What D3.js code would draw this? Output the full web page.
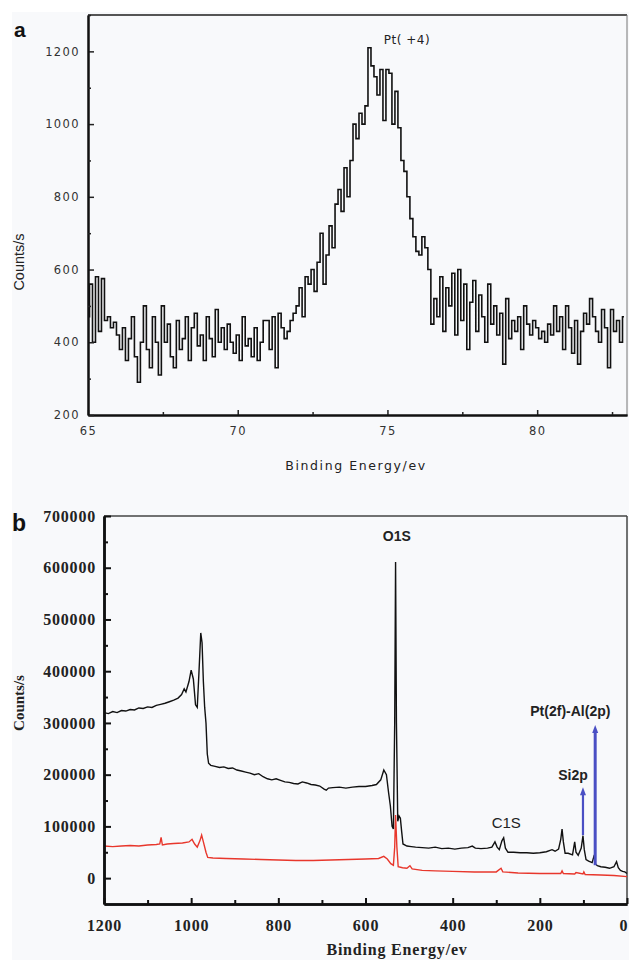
<!DOCTYPE html>
<html>
<head>
<meta charset="utf-8">
<script src="https://cdn.jsdelivr.net/npm/d3@7"></script>
<style>
body{margin:0;background:#fff;}
svg{display:block;}
</style>
</head>
<body>
<svg id="canvas" width="629" height="960"></svg>
<script>
// panel a: Pt 4f region, 65.0 .. 82.9 eV step 0.1
let aStart=65.0, aStep=0.1;
let aCounts=[
470,560,400,580,430,575,460,470,440,455,
420,380,440,350,410,470,360,290,400,500,
380,330,470,400,310,500,400,450,360,330,
460,380,410,470,350,440,480,390,420,350,
470,410,360,490,400,440,380,450,400,370,
420,350,470,390,410,360,440,350,400,460,
460,380,470,330,480,440,410,430,460,480,
500,550,470,580,560,600,540,620,700,560,
640,720,660,780,820,760,880,800,900,1000,
960,1030,1000,1050,1210,1160,1130,1080,1150,1010,
1150,1140,1000,1090,990,900,870,800,740,690,
650,640,690,660,600,450,520,470,580,430,
550,500,590,420,600,460,560,380,510,570,
430,530,470,400,560,450,500,420,480,340,
520,410,460,430,470,380,500,450,420,460,
440,410,430,400,450,420,500,430,470,380,
500,440,370,460,340,430,480,450,520,470,
430,400,490,440,330,490,430,460,400,470];
let aTicksX=[65,70,75,80], aMinorX=[67.5,72.5,77.5,82.5];
let aTicksY=[200,400,600,800,1000,1200], aMinorY=[300,500,700,900,1100,1300];

// panel b: survey spectra
let bEnergy=[1200,1190,1180,1170,1160,1150,1140,1130,1120,1110,1100,1090,1080,1070,1060,1050,1040,1030,1022,1016,1012,1005,1000,995,990,986,982,978,975,972,969,966,963,960,955,945,935,925,915,905,895,885,875,865,855,845,835,825,815,805,795,785,775,765,755,745,735,725,715,705,695,690,685,675,660,645,630,615,600,585,575,565,558,552,547,543,539,536,533,531,529,526,523,520,517,514,505,495,485,470,455,440,425,410,395,380,365,355,348,335,320,310,303,298,293,287,283,279,273,260,245,230,215,200,185,172,165,157,152,149,146,142,135,125,120,117,112,105,101,98,94,88,80,75,73,68,60,50,40,30,24,20,15,10,5,0];
let bBlack=[320000,318000,322000,320000,324000,323000,326000,325000,329000,328000,331000,330000,334000,336000,338000,341000,344000,348000,355000,366000,360000,380000,402000,385000,335000,330000,400000,474000,455000,380000,330000,300000,240000,222000,218000,216000,214000,215000,212000,213000,209000,207000,205000,203000,200000,202000,196000,192000,190000,192000,189000,186000,185000,183000,182000,186000,184000,181000,180000,178000,172000,170000,174000,175000,176000,174000,176000,177000,177000,179000,181000,190000,209000,200000,165000,140000,100000,95000,300000,611000,300000,110000,120000,116000,90000,66000,62000,61000,60000,59000,58000,60000,57000,58000,56000,58000,59000,62000,58000,57000,58000,60000,70000,60000,55000,72000,78000,58000,50000,50000,49000,49000,48000,49000,51000,55000,52000,56000,75000,95000,70000,48000,48000,45000,70000,50000,44000,58000,82000,55000,36000,33000,30000,45000,28000,24000,22000,21000,19000,22000,32000,20000,15000,13000,12000,9000];
let redEnergy=[1200,1180,1160,1140,1120,1100,1080,1072,1069,1066,1055,1040,1020,1005,998,992,986,980,976,972,966,962,950,920,880,840,800,760,720,680,640,600,570,558,550,542,536,533,531,528,525,515,505,498,493,470,440,400,350,300,289,285,250,200,152,149,146,120,117,101,99,96,60,30,0];
let bRed=[62000,61000,62000,63000,62000,64000,65000,66000,79000,64000,66000,67000,68000,70000,75000,66000,60000,72000,83000,70000,50000,40000,39000,38000,37000,36000,35000,34000,34000,35000,36000,37000,38000,42000,37000,28000,25000,60000,122000,60000,22000,20000,19000,24000,18000,15000,14000,13000,12000,12000,19000,12000,10000,9000,9000,14000,9000,8000,11000,8000,12000,7000,6000,5000,3000];
let bTicksX=[1200,1000,800,600,400,200,0], bMinorX=[1100,900,700,500,300,100];
let bTicksY=[0,100000,200000,300000,400000,500000,600000,700000];
let bMinorY=[50000,150000,250000,350000,450000,550000,650000];
let peakLabels=[{t:"O1S",e:528,v:652000,bold:true},{t:"C1S",e:277,v:97000,bold:false},{t:"Si2p",e:124,v:189000,bold:true},{t:"Pt(2f)-Al(2p)",e:130,v:313000,bold:true}];
let arrows=[{e:101,from:83000,to:172000,w:2.2},{e:73,from:25000,to:292000,w:3}];

let canvas=d3.select("#canvas");
canvas.append("rect").attr("x",12).attr("y",12).attr("width",617).attr("height",948).attr("fill","#f8f9fb");

// ---------- panel a ----------
let xA=d3.scaleLinear().domain([65,83]).range([88,627]);
let yA=d3.scaleLinear().domain([200,1300]).range([415,15]);
let ga=canvas.append("g");
ga.append("line").attr("x1",88).attr("x2",627).attr("y1",15).attr("y2",15).attr("stroke","#555").attr("stroke-width",2);
ga.append("line").attr("x1",627).attr("x2",627).attr("y1",15).attr("y2",415).attr("stroke","#777").attr("stroke-width",1);

let aLine=d3.line().x((d,i)=>xA(aStart+i*aStep)).y(d=>yA(d)).curve(d3.curveStep);
ga.append("path").datum(aCounts).attr("d",aLine).attr("fill","none").attr("stroke","#111").attr("stroke-width",1.6);

ga.append("g").attr("transform","translate(0,415)")
  .call(d3.axisBottom(xA).tickValues(aTicksX).tickSizeInner(-5).tickSizeOuter(0).tickPadding(12).tickFormat(d3.format("d")));
ga.append("g").attr("transform","translate(0,415)")
  .call(d3.axisBottom(xA).tickValues(aMinorX).tickSizeInner(-3).tickSizeOuter(0).tickFormat(""));
ga.append("g").attr("transform","translate(88,0)")
  .call(d3.axisLeft(yA).tickValues(aTicksY).tickSizeInner(-6).tickSizeOuter(0).tickPadding(8).tickFormat(d3.format("d")));
ga.append("g").attr("transform","translate(88,0)")
  .call(d3.axisLeft(yA).tickValues(aMinorY).tickSizeInner(-3).tickSizeOuter(0).tickFormat(""));
ga.selectAll(".domain").attr("stroke","#111").attr("stroke-width",2);
ga.selectAll(".tick line").attr("stroke","#222").attr("stroke-width",1.5);
ga.selectAll(".tick text").style("font-family","DejaVu Sans").style("font-size","11.5px").style("letter-spacing","1.4px").attr("fill","#333");

ga.append("text").attr("x",407).attr("y",44).attr("text-anchor","middle").style("font-family","DejaVu Sans").style("font-size","12px").style("letter-spacing","0.5px").attr("fill","#222").text("Pt( +4)");
ga.append("text").attr("x",356).attr("y",470).attr("text-anchor","middle").style("font-family","DejaVu Sans").style("font-size","12.5px").style("letter-spacing","1.6px").attr("fill","#222").text("Binding Energy/ev");
ga.append("text").attr("transform","translate(24,262) rotate(-90)").attr("text-anchor","middle").style("font-family","Liberation Sans").style("font-size","14.5px").attr("fill","#222").text("Counts/s");
ga.append("text").attr("x",14).attr("y",37).style("font-family","Liberation Sans").style("font-weight","bold").style("font-size","21px").attr("fill","#111").text("a");

// ---------- panel b ----------
let xB=d3.scaleLinear().domain([1200,0]).range([104,627]);
let yB=d3.scaleLinear().domain([-50000,700000]).range([904,516]);
let gb=canvas.append("g");
gb.append("line").attr("x1",104).attr("x2",627).attr("y1",516).attr("y2",516).attr("stroke","#444").attr("stroke-width",1.5);
gb.append("line").attr("x1",627).attr("x2",627).attr("y1",516).attr("y2",904).attr("stroke","#444").attr("stroke-width",1.5);

let bLine=d3.line().x(d=>xB(d[0])).y(d=>yB(d[1]));
gb.append("path").datum(redEnergy.map((e,i)=>[e,bRed[i]])).attr("d",bLine).attr("fill","none").attr("stroke","#e8372c").attr("stroke-width",1.4);
gb.append("path").datum(bEnergy.map((e,i)=>[e,bBlack[i]])).attr("d",bLine).attr("fill","none").attr("stroke","#111").attr("stroke-width",1.4);

let bxAxis=gb.append("g").attr("transform","translate(0,904)")
  .call(d3.axisBottom(xB).tickValues(bTicksX).tickSizeInner(-6).tickSizeOuter(0).tickPadding(16).tickFormat(d3.format("d")));
gb.append("g").attr("transform","translate(0,904)")
  .call(d3.axisBottom(xB).tickValues(bMinorX).tickSizeInner(-4).tickSizeOuter(0).tickFormat(""));
gb.append("g").attr("transform","translate(104,0)")
  .call(d3.axisLeft(yB).tickValues(bTicksY).tickSizeInner(-7).tickSizeOuter(0).tickPadding(8).tickFormat(d3.format("d")));
gb.append("g").attr("transform","translate(104,0)")
  .call(d3.axisLeft(yB).tickValues(bMinorY).tickSizeInner(-4).tickSizeOuter(0).tickFormat(""));
gb.selectAll(".domain").attr("stroke","#111").attr("stroke-width",2.5);
gb.selectAll(".tick line").attr("stroke","#111").attr("stroke-width",2);
gb.selectAll(".tick text").style("font-family","Liberation Serif").style("font-weight","bold").style("font-size","16px").style("letter-spacing","0.8px").attr("fill","#222");
// last label sits at the frame edge; keep it inside the page
bxAxis.selectAll(".tick text").filter(d=>d===0).attr("text-anchor","end").attr("dx","0").style("letter-spacing","0px");

let blue="#4a4fc4";
arrows.forEach(a=>{
  gb.append("line").attr("x1",xB(a.e)).attr("x2",xB(a.e)).attr("y1",yB(a.from)).attr("y2",yB(a.to)+4).attr("stroke",blue).attr("stroke-width",a.w);
  gb.append("path").attr("d",`M${xB(a.e)},${yB(a.to)-2} l-3,8 l6,0 z`).attr("fill",blue);
});
peakLabels.forEach(p=>{
  gb.append("text").attr("x",xB(p.e)).attr("y",yB(p.v)).attr("text-anchor","middle")
    .style("font-family","Liberation Sans").style("font-weight",p.bold?"bold":"normal").style("font-size",p.bold?"14px":"15px").attr("fill","#222").text(p.t);
});
gb.append("text").attr("x",397).attr("y",955).attr("text-anchor","middle").style("font-family","Liberation Serif").style("font-weight","bold").style("font-size","16px").style("letter-spacing","0.8px").attr("fill","#222").text("Binding Energy/ev");
gb.append("text").attr("transform","translate(24,703) rotate(-90)").attr("text-anchor","middle").style("font-family","Liberation Serif").style("font-weight","bold").style("font-size","15px").attr("fill","#222").text("Counts/s");
gb.append("text").attr("x",12).attr("y",531).style("font-family","Liberation Sans").style("font-weight","bold").style("font-size","23px").attr("fill","#111").text("b");
</script>
</body>
</html>
